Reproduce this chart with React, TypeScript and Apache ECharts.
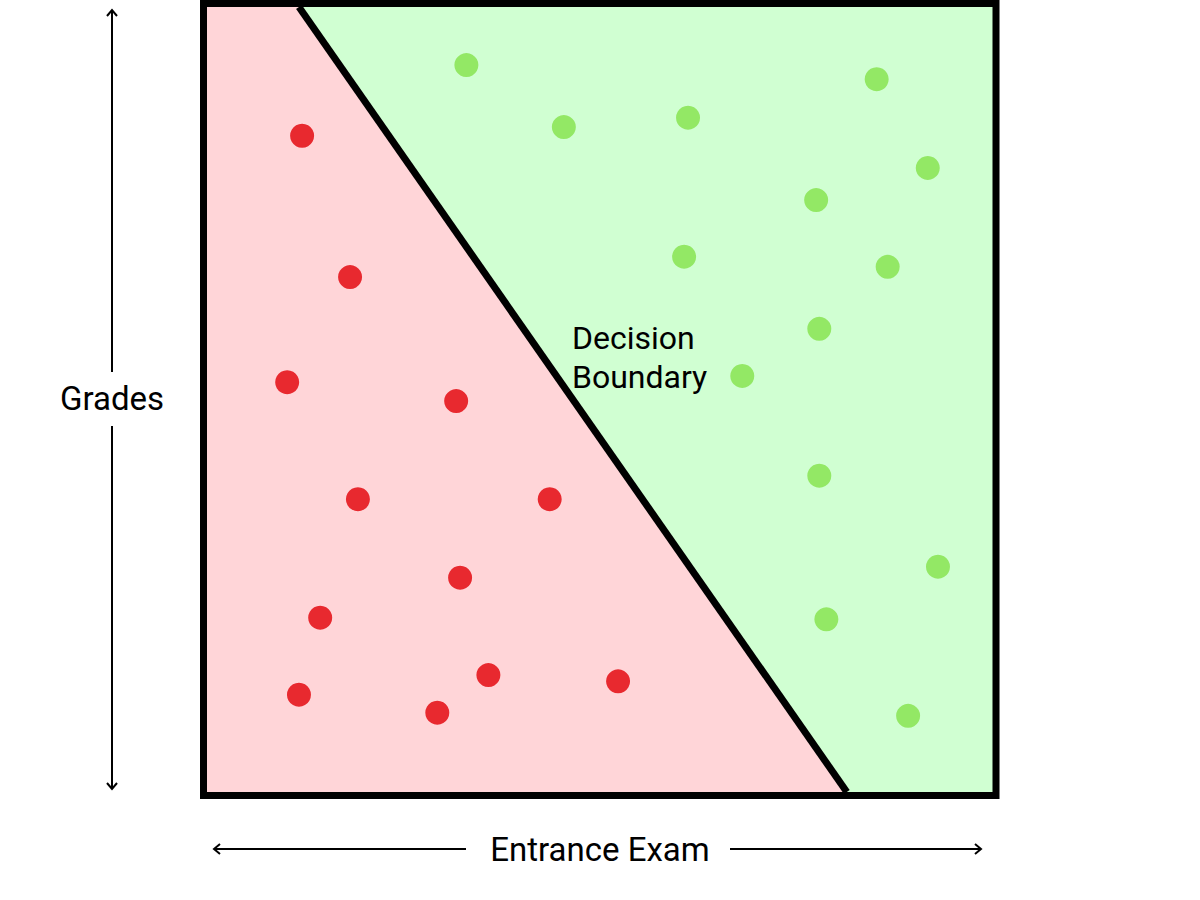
import React, { useEffect, useRef } from "react";
import * as echarts from "echarts";

const redPoints: [number, number][] = [
  [12.1, 83.6], [18.2, 65.6], [10.2, 52.2], [31.7, 49.8], [19.2, 37.3], [43.6, 37.3],
  [32.2, 27.3], [14.4, 22.2], [35.8, 14.9], [52.3, 14.1], [11.7, 12.4], [29.3, 10.1],
];
const greenPoints: [number, number][] = [
  [33.0, 92.6], [45.4, 84.7], [61.2, 85.9], [85.2, 90.8], [91.7, 79.5], [77.5, 75.4],
  [60.7, 68.2], [86.6, 66.9], [77.9, 59.0], [68.1, 53.0], [77.9, 40.3], [93.0, 28.7],
  [78.8, 22.0], [89.2, 9.7],
];
const boundary: [number, number][] = [[11.7, 100], [81.4, 0]];
const redRegion: [number, number][] = [[0, 100], [11.7, 100], [81.4, 0]];
const xLabel = "Entrance Exam";
const yLabel = "Grades";
const boundaryLabel = "Decision\nBoundary";

export default function App() {
  const ref = useRef<HTMLDivElement>(null);
  useEffect(() => {
    const chart = echarts.init(ref.current!, null, { renderer: "svg" });
    const font = "Roboto";
    const arrowStyle = { stroke: "#000", lineWidth: 2 };
    chart.setOption({
      animation: false,
      grid: {
        left: 207, top: 7, width: 786, height: 785,
        show: true, backgroundColor: "#D0FFD2", borderWidth: 0,
      },
      xAxis: { type: "value", min: 0, max: 100, show: false },
      yAxis: { type: "value", min: 0, max: 100, show: false },
      series: [
        {
          type: "line", data: redRegion, symbol: "none", silent: true,
          lineStyle: { width: 0 }, areaStyle: { color: "#FFD5D8", opacity: 1 }, z: 1,
        },
        {
          type: "line", data: boundary, symbol: "none", silent: true,
          lineStyle: { width: 7, color: "#000" }, z: 2,
        },
        {
          type: "scatter", data: redPoints, symbolSize: 24,
          itemStyle: { color: "#E8292F", opacity: 1 }, z: 3,
        },
        {
          type: "scatter", data: greenPoints, symbolSize: 24,
          itemStyle: { color: "#93E865", opacity: 1 }, z: 3,
        },
      ],
      graphic: [
        {
          type: "rect", z: 100,
          shape: { x: 203.5, y: 3.5, width: 792.5, height: 792 },
          style: { fill: "none", stroke: "#000", lineWidth: 7 },
        },
        {
          type: "text", z: 100, left: 572, top: 318,
          style: { text: boundaryLabel, font: `32px ${font}`, fill: "#000", lineHeight: 39 },
        },
        // vertical arrow
        { type: "line", shape: { x1: 112, y1: 10, x2: 112, y2: 372 }, style: arrowStyle },
        { type: "line", shape: { x1: 112, y1: 426, x2: 112, y2: 789 }, style: arrowStyle },
        { type: "polyline", shape: { points: [[107, 16], [112, 10], [117, 16]] }, style: { ...arrowStyle, fill: "none" } },
        { type: "polyline", shape: { points: [[107, 783], [112, 789], [117, 783]] }, style: { ...arrowStyle, fill: "none" } },
        {
          type: "text", x: 112, y: 398,
          style: { text: yLabel, font: `33px ${font}`, fill: "#000", align: "center", verticalAlign: "middle" },
        },
        // horizontal arrow
        { type: "line", shape: { x1: 214, y1: 849, x2: 466, y2: 849 }, style: arrowStyle },
        { type: "line", shape: { x1: 730, y1: 849, x2: 981, y2: 849 }, style: arrowStyle },
        { type: "polyline", shape: { points: [[220, 844], [214, 849], [220, 854]] }, style: { ...arrowStyle, fill: "none" } },
        { type: "polyline", shape: { points: [[975, 844], [981, 849], [975, 854]] }, style: { ...arrowStyle, fill: "none" } },
        {
          type: "text", x: 600, y: 849,
          style: { text: xLabel, font: `33px ${font}`, fill: "#000", align: "center", verticalAlign: "middle" },
        },
      ],
    });
    return () => chart.dispose();
  }, []);
  return <div ref={ref} style={{ width: 1200, height: 900, position: "absolute", left: 0, top: 0 }} />;
}
